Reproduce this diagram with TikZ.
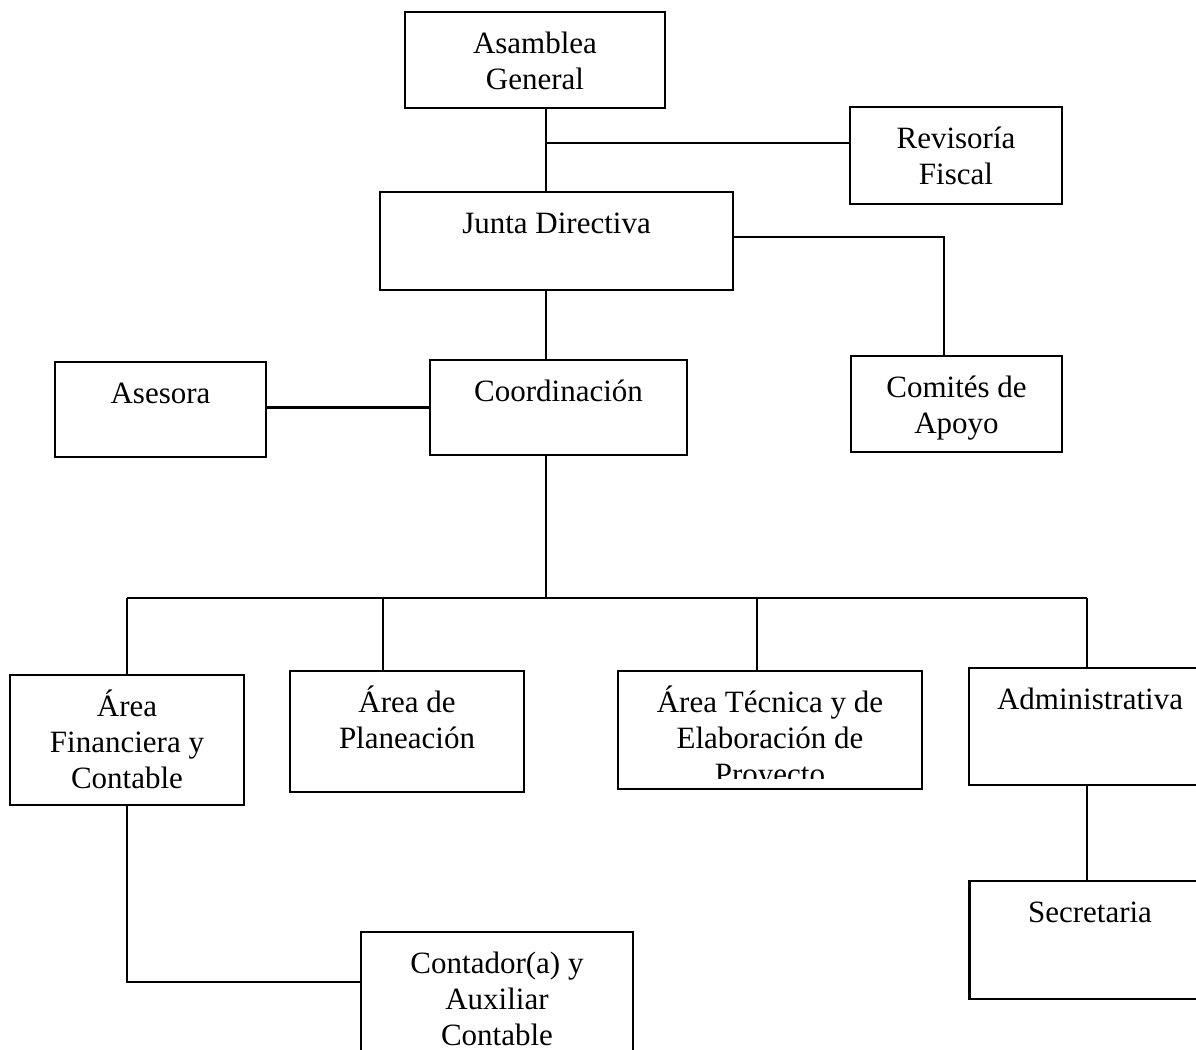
\documentclass[tikz,border=0pt]{standalone}
\usepackage{fontspec}
\setmainfont{Liberation Serif}
\usetikzlibrary{calc}
\newcommand\myrule{\rule{0pt}{30pt}}
\begin{document}
\begin{tikzpicture}[x=1pt,y=-1pt,
  box/.style={draw=black, line width=2.2pt, rectangle, inner sep=0pt, outer sep=0pt},
  txt/.style={anchor=north, inner sep=0pt, align=center, font=\fontsize{31}{36}\selectfont},
  conn/.style={draw=black, line width=2.2pt}]
\clip (0,0) rectangle (1196,1049);
% boxes
\node[box, minimum width=260pt, minimum height=96pt] (asam) at (535,60) {};
\node[box, minimum width=212pt, minimum height=97pt] (rev) at (956,155.5) {};
\node[box, minimum width=353pt, minimum height=98pt] (junta) at (556.5,241) {};
\node[box, minimum width=211pt, minimum height=96pt] (com) at (956.5,404) {};
\node[box, minimum width=211pt, minimum height=95pt] (ases) at (160.5,409.5) {};
\node[box, minimum width=257pt, minimum height=95pt] (coord) at (558.5,407.5) {};
\node[box, minimum width=234pt, minimum height=130pt] (fin) at (127,740) {};
\node[box, minimum width=234pt, minimum height=121pt] (plan) at (407,731.5) {};
\node[box, minimum width=304pt, minimum height=118pt] (tec) at (770,730) {};
\node[box, minimum width=242pt, minimum height=117pt] (adm) at (1090,726.5) {};
\node[box, minimum width=241pt, minimum height=118pt] (sec) at (1090,940) {};
\node[box, minimum width=272pt, minimum height=138pt] (cont) at (497,1001) {};
% texts
\node[txt] (tasam) at ($(asam.north)+(0,11)$) {\myrule Asamblea\\General};
\node[txt] (trev) at ($(rev.north)+(0,11)$) {\myrule Revisoría\\Fiscal};
\node[txt] (tjunta) at ($(junta.north)+(0,11)$) {\myrule Junta Directiva};
\node[txt] (tcom) at ($(com.north)+(0,11)$) {\myrule Comités de\\Apoyo};
\node[txt] (tases) at ($(ases.north)+(0,11)$) {\myrule Asesora};
\node[txt] (tcoord) at ($(coord.north)+(0,11)$) {\myrule Coordinación};
\node[txt] (tfin) at ($(fin.north)+(0,11)$) {\myrule Área\\Financiera y\\Contable};
\node[txt] (tplan) at ($(plan.north)+(0,11)$) {\myrule Área de\\Planeación};
\begin{scope}
\clip (tec.north west) rectangle ($(tec.south east)+(0,-11)$);
\node[txt] (ttec) at ($(tec.north)+(0,11)$) {\myrule Área Técnica y de\\Elaboración de\\Proyecto};
\end{scope}
\node[txt] (tadm) at ($(adm.north)+(0,11)$) {\myrule Administrativa};
\node[txt] (tsec) at ($(sec.north)+(0,11)$) {\myrule Secretaria};
\node[txt] (tcont) at ($(cont.north)+(0,11)$) {\myrule Contador(a) y\\Auxiliar\\Contable};
% junctions
\coordinate (t1) at (546,143);
\coordinate (c2) at (944,237);
\coordinate (bus) at (546,598);
\coordinate (d1) at (127,598);
\coordinate (d2) at (383,598);
\coordinate (d3) at (757,598);
\coordinate (d4) at (1087,598);
\coordinate (k) at (127,982);
% connectors
\draw[conn] (asam.south -| t1) -- (junta.north -| t1);
\draw[conn] (t1) -- (t1 -| rev.west);
\draw[conn] (c2 -| junta.east) -- (c2) -- (com.north -| c2);
\draw[conn] (junta.south -| t1) -- (coord.north -| t1);
\draw[conn] (ases.east |- coord.west) -- (coord.west);
\draw[conn] (coord.south -| bus) -- (bus);
\draw[conn] (d1) -- (d4);
\draw[conn] (d1) -- (fin.north -| d1);
\draw[conn] (d2) -- (plan.north -| d2);
\draw[conn] (d3) -- (tec.north -| d3);
\draw[conn] (d4) -- (adm.north -| d4);
\draw[conn] (adm.south -| d4) -- (sec.north -| d4);
\draw[conn] (fin.south) -- (k) -- (k -| cont.west);
\end{tikzpicture}
\end{document}
